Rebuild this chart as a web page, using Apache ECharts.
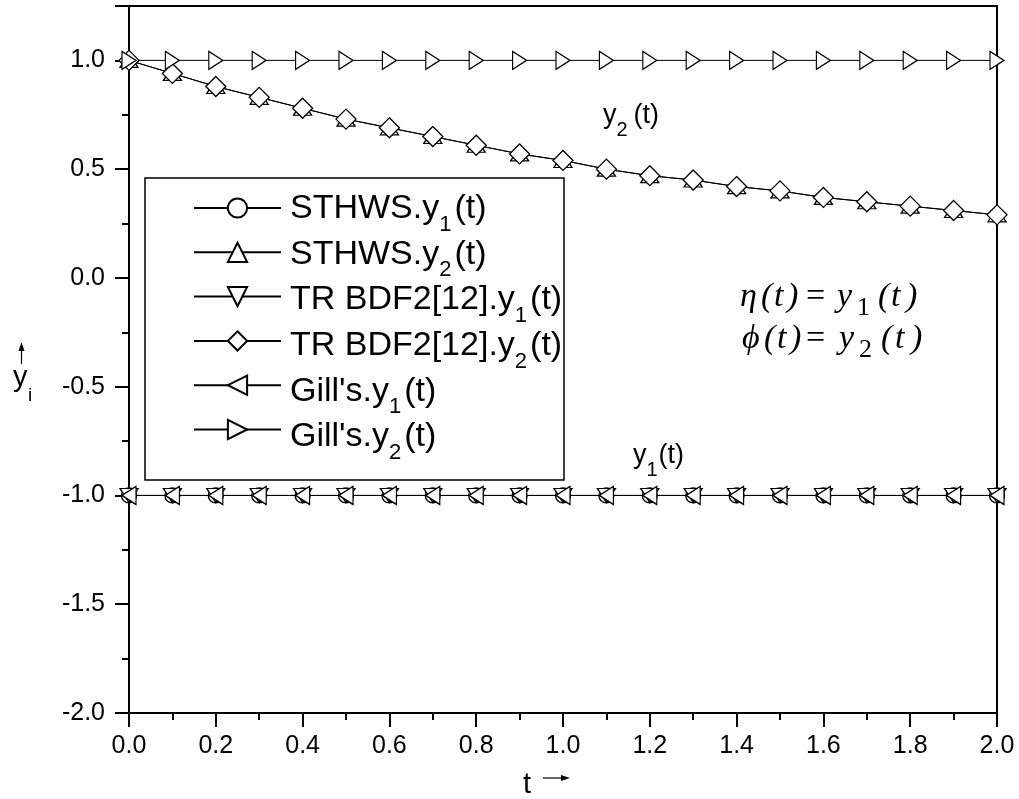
<!DOCTYPE html>
<html>
<head>
<meta charset="utf-8">
<script src="https://cdn.jsdelivr.net/npm/echarts@6/dist/echarts.min.js"></script>
<style>
  html, body { margin: 0; padding: 0; background: #fff; }
  #main { width: 1019px; height: 799px; }
</style>
</head>
<body>
<div id="main"></div>
<script>
// time steps
var tValues = [0.0, 0.1, 0.2, 0.3, 0.4, 0.5, 0.6, 0.7, 0.8, 0.9, 1.0,
               1.1, 1.2, 1.3, 1.4, 1.5, 1.6, 1.7, 1.8, 1.9, 2.0];

// y1(t) stays at -1 for all methods
var sthwsY1 = [-1, -1, -1, -1, -1, -1, -1, -1, -1, -1, -1, -1, -1, -1, -1, -1, -1, -1, -1, -1, -1];
var trY1    = [-1, -1, -1, -1, -1, -1, -1, -1, -1, -1, -1, -1, -1, -1, -1, -1, -1, -1, -1, -1, -1];
var gillY1  = [-1, -1, -1, -1, -1, -1, -1, -1, -1, -1, -1, -1, -1, -1, -1, -1, -1, -1, -1, -1, -1];

// y2(t)
var sthwsY2 = [1.00, 0.94, 0.88, 0.83, 0.78, 0.73, 0.69, 0.65, 0.61, 0.57, 0.54,
               0.50, 0.47, 0.45, 0.42, 0.40, 0.37, 0.35, 0.33, 0.31, 0.29];
var trY2    = [1.00, 0.94, 0.88, 0.83, 0.78, 0.73, 0.69, 0.65, 0.61, 0.57, 0.54,
               0.50, 0.47, 0.45, 0.42, 0.40, 0.37, 0.35, 0.33, 0.31, 0.29];
var gillY2  = [1, 1, 1, 1, 1, 1, 1, 1, 1, 1, 1, 1, 1, 1, 1, 1, 1, 1, 1, 1, 1];

var seriesNames = ['STHWS.y1(t)', 'STHWS.y2(t)', 'TR BDF2[12].y1(t)',
                   'TR BDF2[12].y2(t)', "Gill's.y1(t)", "Gill's.y2(t)"];

var yTicks = ['-2.0', '-1.5', '-1.0', '-0.5', '0.0', '0.5', '1.0'];

function pairs(ys) {
  return tValues.map(function (t, i) { return [t, ys[i]]; });
}

var font = 'Liberation Sans';
var serif = 'Liberation Serif';

var ctx = document.createElement('canvas').getContext('2d');
function textWidth(str, size, family) {
  ctx.font = size + 'px "' + family + '"';
  return ctx.measureText(str).width;
}

function txt(x, y, str, size, family, italic) {
  return {
    type: 'text', x: x, y: y, z: 10,
    style: {
      text: str, fontFamily: family, fontSize: size,
      fontStyle: italic ? 'italic' : 'normal',
      fill: '#000', verticalAlign: 'middle', align: 'left'
    }
  };
}

// main text + lowered subscript + tail, y is the middle of the main text
function subLabel(x, y, main, sub, tail, size, subSize, dy, gap) {
  var w1 = textWidth(main, size, font);
  var w2 = textWidth(sub, subSize, font);
  return [
    txt(x, y, main, size, font),
    txt(x + w1, y + dy, sub, subSize, font),
    txt(x + w1 + w2 + gap, y, tail, size, font)
  ];
}

function mkSeries(name, ys, symbol, rotate, size) {
  return {
    name: name,
    type: 'line',
    data: pairs(ys),
    symbol: symbol,
    symbolSize: size,
    symbolRotate: rotate,
    showAllSymbol: true,
    lineStyle: { color: '#000', width: 1 },
    itemStyle: { color: '#fff', borderColor: '#000', borderWidth: 1.3 },
    emphasis: { disabled: true },
    animation: false
  };
}

// legend frame and rows
var legendRow0 = 208;
var legendStep = 45.7;

var graphics = [
  { type: 'rect', z: 3, shape: { x: 145, y: 178, width: 419, height: 302 },
    style: { fill: '#fff', stroke: '#000', lineWidth: 1.5 } }
];

seriesNames.forEach(function (name, i) {
  var m = name.match(/^(.*\.y)(\d)(\(t\))$/);
  graphics = graphics.concat(subLabel(290, legendRow0 + i * legendStep + 0.5,
                                      m[1], m[2], m[3], 34, 22, 16, 3));
});

// curve labels
graphics = graphics.concat(subLabel(603, 116, 'y', '2', '(t)', 27, 20, 14, 6));
graphics = graphics.concat(subLabel(633, 456, 'y', '1', '(t)', 27, 20, 14, 1));

// equations, glyph by glyph
var eq1 = [['η', 740, 1], ['(', 761, 1], ['t', 774, 1], [')', 787, 1], ['=', 806, 0],
           ['y', 837, 1], ['(', 878, 1], ['t', 891, 1], [')', 906, 1]];
var eq2 = [['ϕ', 742, 1], ['(', 764, 1], ['t', 777, 1], [')', 790, 1], ['=', 806, 0],
           ['y', 839, 1], ['(', 881, 1], ['t', 895, 1], [')', 911, 1]];
eq1.forEach(function (g) { graphics.push(txt(g[1], 297, g[0], 34, serif, g[2])); });
eq2.forEach(function (g) { graphics.push(txt(g[1], 339, g[0], 34, serif, g[2])); });
graphics.push(txt(857, 308, '1', 26, serif, 0));
graphics.push(txt(859, 350, '2', 26, serif, 0));

// axis names with arrows
graphics.push(
  { type: 'line', shape: { x1: 21.5, y1: 364, x2: 21.5, y2: 350 }, style: { stroke: '#000', lineWidth: 1.2 } },
  { type: 'polygon', shape: { points: [[21.5, 342], [18.5, 351], [24.5, 351]] }, style: { fill: '#000' } }
);
graphics = graphics.concat([
  txt(13, 378, 'y', 29, font),
  txt(28, 396, 'i', 19, font),
  txt(523, 785, 't', 29, font)
]);
graphics.push(
  { type: 'line', shape: { x1: 543, y1: 778, x2: 562, y2: 778 }, style: { stroke: '#000', lineWidth: 1.2 } },
  { type: 'polygon', shape: { points: [[570, 778], [561, 775], [561, 781]] }, style: { fill: '#000' } }
);

var chart = echarts.init(document.getElementById('main'));

var option = {
  backgroundColor: '#fff',
  animation: false,
  grid: {
    left: 129, right: 22, top: 6, bottom: 86,
    show: true, borderColor: '#000', borderWidth: 2
  },
  xAxis: {
    type: 'value',
    min: 0, max: 2, interval: 0.2,
    axisLine: { show: true, onZero: false, lineStyle: { color: '#000', width: 2 } },
    axisTick: { show: true, length: 14, lineStyle: { color: '#000', width: 2 } },
    minorTick: { show: true, splitNumber: 2, length: 7, lineStyle: { color: '#000', width: 2 } },
    splitLine: { show: false },
    axisLabel: {
      color: '#000', fontFamily: font, fontSize: 25, margin: 21,
      formatter: function (v) { return v.toFixed(1); }
    }
  },
  yAxis: {
    type: 'value',
    min: -2, max: 1.25, interval: 0.5,
    axisLine: { show: true, onZero: false, lineStyle: { color: '#000', width: 2 } },
    axisTick: { show: true, length: 14, lineStyle: { color: '#000', width: 2 } },
    minorTick: { show: true, splitNumber: 2, length: 7, lineStyle: { color: '#000', width: 2 } },
    splitLine: { show: false },
    axisLabel: {
      color: '#000', fontFamily: font, fontSize: 25, margin: 24,
      formatter: function (v) {
        var s = v.toFixed(1);
        return yTicks.indexOf(s) >= 0 ? s : '';
      }
    }
  },
  legend: {
    orient: 'vertical',
    left: 193, top: legendRow0 - 12,
    padding: 0,
    itemGap: legendStep - 24,
    itemWidth: 87,
    itemHeight: 24,
    selectedMode: false,
    data: seriesNames,
    formatter: function () { return ''; },
    z: 5
  },
  series: [
    mkSeries(seriesNames[0], sthwsY1, 'circle', 0, 15),
    mkSeries(seriesNames[1], sthwsY2, 'triangle', 0, [18, 14]),
    mkSeries(seriesNames[2], trY1, 'triangle', 180, [18, 14]),
    mkSeries(seriesNames[3], trY2, 'diamond', 0, 20),
    mkSeries(seriesNames[4], gillY1, 'triangle', 90, [18, 14]),
    mkSeries(seriesNames[5], gillY2, 'triangle', -90, [18, 14])
  ],
  graphic: graphics
};

chart.setOption(option);
</script>
</body>
</html>
